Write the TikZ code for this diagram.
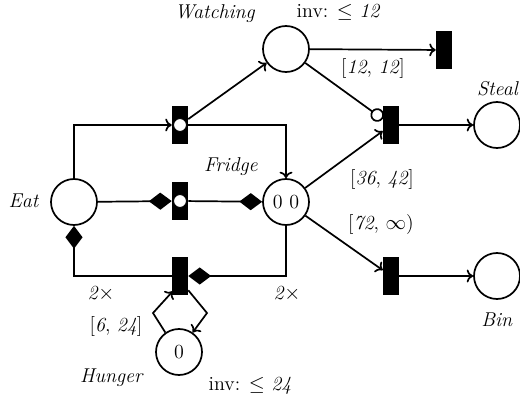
\documentclass[tikz,border=0pt]{standalone}
\usetikzlibrary{arrows.meta,calc}
\begin{document}
\begin{tikzpicture}[x=0.7pt,y=-0.7pt,
  font=\fontsize{14}{17}\selectfont,
  place/.style={circle,draw,line width=1.2pt,minimum size=32.2pt,inner sep=0pt},
  trans/.style={rectangle,fill=black,minimum width=11.2pt,minimum height=26.6pt,inner sep=0pt},
  dot/.style={circle,draw,fill=white,line width=0.6pt,minimum size=9pt,inner sep=0pt},
  arc/.style={line width=1.2pt,-{To[length=4.5pt,width=9pt]}},
  dia/.style={line width=1.2pt,-{Diamond[length=16pt,width=12pt]}},
  inh/.style={line width=1.2pt,-{Circle[open,length=9.5pt,line width=1.2pt]}},
  lbl/.style={inner sep=1pt}]
\useasboundingbox (0,0) rectangle (520,401);
% places
\node[place] (eat) at (74,202) {};
\node[place] (fr) at (286,202) {0 0};
\node[place] (wa) at (286,49) {};
\node[place] (st) at (497,125) {};
\node[place] (bin) at (497,276) {};
\node[place] (hg) at (179,352) {0};
% transitions
\node[trans] (tt) at (180,125) {};
\node[trans] (tm) at (180,201) {};
\node[trans] (tb) at (180,276) {};
\node[trans] (tw) at (444,50) {};
\node[trans] (ts) at (391,125) {};
\node[trans] (tn) at (391,276) {};
% arcs
\draw[arc] (eat) |- (tt);
\draw[arc] (tt) -| (fr);
\draw[arc] (tt) -- (wa);
\draw[dia] (eat) -- (tm);
\draw[dia] (tm) -- (fr);
\draw[dia] (fr) |- (tb);
\draw[dia] (tb) -| (eat);
\coordinate (hl) at (153,313);
\coordinate (hr) at (207,313);
\draw[arc] (hg.125) -- (hl) -- ($(tb.south west)+(1,-4)$);
\draw[arc] ($(tb.south east)+(0,-5)$) -- (hr) -- (hg.55);
\draw[arc] (wa) -- (tw);
\draw[inh] (wa) -- (ts);
\draw[arc] (fr) -- (ts);
\draw[arc] (fr) -- (tn);
\draw[arc] (ts) -- (st);
\draw[arc] (tn) -- (bin);
% white dots on transitions
\node[dot] (dt) at (tt) {};
\node[dot] (dm) at (tm) {};
% labels
\node[lbl] (leat) at (24,201) {\textit{Eat}};
\node[lbl] (lfr) at (231,167) {\textit{Fridge}};
\node[lbl] (lwa) at (215,14) {\textit{Watching}};
\node[lbl] (lst) at (498,89) {\textit{Steal}};
\node[lbl] (lbin) at (497,320) {\textit{Bin}};
\node[lbl] (lhg) at (112,378) {\textit{Hunger}};
\node[lbl,anchor=west] (linv1) at (295,12) {inv: $\leq$ \textit{12}};
\node[lbl] (linv2) at (250,386) {inv: $\leq$ \textit{24}};
\node[lbl] (l12) at (373,68) {[\textit{12}, \textit{12}]};
\node[lbl] (l36) at (382,179) {[\textit{36}, \textit{42}]};
\node[lbl] (l72) at (381,225) {[\textit{72}, $\infty$)};
\node[lbl] (l6) at (116,326) {[\textit{6}, \textit{24}]};
\node[lbl] (l2a) at (101,294) {\textit{2}$\times$};
\node[lbl] (l2b) at (287,294) {\textit{2}$\times$};
\end{tikzpicture}
\end{document}
